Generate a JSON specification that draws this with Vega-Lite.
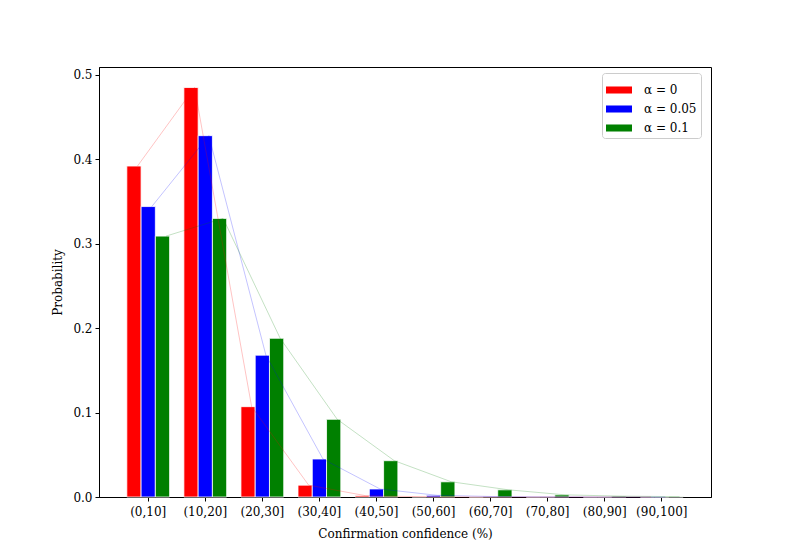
{
  "$schema": "https://vega.github.io/schema/vega-lite/v6.json",
  "width": 612,
  "height": 430,
  "autosize": {"type": "none"},
  "padding": {"left": 99, "top": 67, "right": 79, "bottom": 61},
  "background": "white",
  "config": {
    "font": "DejaVu Serif",
    "view": {"stroke": "black", "strokeWidth": 1},
    "axis": {
      "grid": false,
      "domainColor": "black",
      "tickColor": "black",
      "labelColor": "black",
      "titleColor": "black",
      "labelFontSize": 12,
      "titleFontSize": 12,
      "titleFontWeight": "normal",
      "tickSize": 4,
      "labelPadding": 3
    }
  },
  "data": {
    "values": [
      {"bin": "(0,10]", "series": "α = 0", "p": 0.392},
      {"bin": "(10,20]", "series": "α = 0", "p": 0.485},
      {"bin": "(20,30]", "series": "α = 0", "p": 0.107},
      {"bin": "(30,40]", "series": "α = 0", "p": 0.014},
      {"bin": "(40,50]", "series": "α = 0", "p": 0.0015},
      {"bin": "(50,60]", "series": "α = 0", "p": 0.0003},
      {"bin": "(60,70]", "series": "α = 0", "p": 0.0},
      {"bin": "(70,80]", "series": "α = 0", "p": 0.0},
      {"bin": "(80,90]", "series": "α = 0", "p": 0.0},
      {"bin": "(90,100]", "series": "α = 0", "p": 0.0},
      {"bin": "(0,10]", "series": "α = 0.05", "p": 0.344},
      {"bin": "(10,20]", "series": "α = 0.05", "p": 0.428},
      {"bin": "(20,30]", "series": "α = 0.05", "p": 0.168},
      {"bin": "(30,40]", "series": "α = 0.05", "p": 0.045},
      {"bin": "(40,50]", "series": "α = 0.05", "p": 0.0095},
      {"bin": "(50,60]", "series": "α = 0.05", "p": 0.002},
      {"bin": "(60,70]", "series": "α = 0.05", "p": 0.0005},
      {"bin": "(70,80]", "series": "α = 0.05", "p": 0.0001},
      {"bin": "(80,90]", "series": "α = 0.05", "p": 0.0},
      {"bin": "(90,100]", "series": "α = 0.05", "p": 0.0},
      {"bin": "(0,10]", "series": "α = 0.1", "p": 0.309},
      {"bin": "(10,20]", "series": "α = 0.1", "p": 0.33},
      {"bin": "(20,30]", "series": "α = 0.1", "p": 0.188},
      {"bin": "(30,40]", "series": "α = 0.1", "p": 0.092},
      {"bin": "(40,50]", "series": "α = 0.1", "p": 0.043},
      {"bin": "(50,60]", "series": "α = 0.1", "p": 0.018},
      {"bin": "(60,70]", "series": "α = 0.1", "p": 0.0085},
      {"bin": "(70,80]", "series": "α = 0.1", "p": 0.0025},
      {"bin": "(80,90]", "series": "α = 0.1", "p": 0.001},
      {"bin": "(90,100]", "series": "α = 0.1", "p": 0.0004}
    ]
  },
  "encoding": {
    "xOffset": {
      "field": "series",
      "type": "nominal",
      "sort": ["α = 0", "α = 0.05", "α = 0.1"],
      "scale": {"paddingInner": 0, "paddingOuter": 0}
    },
    "y": {
      "field": "p",
      "type": "quantitative",
      "scale": {"domain": [0, 0.5093], "nice": false, "zero": true},
      "axis": {"values": [0, 0.1, 0.2, 0.3, 0.4, 0.5], "format": ".1f", "title": "Probability", "titlePadding": 8}
    },
    "color": {
      "field": "series",
      "type": "nominal",
      "scale": {"domain": ["α = 0", "α = 0.05", "α = 0.1"], "range": ["#ff0000", "#0000ff", "#008000"]},
      "legend": {
        "title": null,
        "orient": "none",
        "legendX": 503,
        "legendY": 6,
        "symbolType": "M-1,-0.27L1,-0.27L1,0.27L-1,0.27Z",
        "symbolSize": 676,
        "symbolStrokeWidth": 0,
        "symbolOpacity": 1,
        "labelFontSize": 12,
        "labelColor": "black",
        "labelOffset": 12,
        "rowPadding": 0,
        "padding": 4,
        "strokeColor": "#cccccc",
        "fillColor": "white",
        "cornerRadius": 3
      }
    }
  },
  "layer": [
    {
      "mark": {"type": "bar", "stroke": "white", "strokeWidth": 0.8},
      "encoding": {
        "x": {
          "field": "bin",
          "type": "nominal",
          "sort": null,
          "scale": {"paddingInner": 0.25, "paddingOuter": 0.4875},
          "axis": {"labelAngle": 0, "title": "Confirmation confidence (%)", "titlePadding": 11, "labelPadding": 5}
        }
      }
    },
    {
      "mark": {"type": "line", "strokeWidth": 0.6, "opacity": 0.4},
      "encoding": {
        "x": {
          "field": "bin",
          "type": "nominal",
          "sort": null,
          "scale": {"paddingInner": 0.25, "paddingOuter": 0.4875, "align": 0.564},
          "axis": null
        }
      }
    }
  ],
  "resolve": {"scale": {"x": "independent"}}
}
